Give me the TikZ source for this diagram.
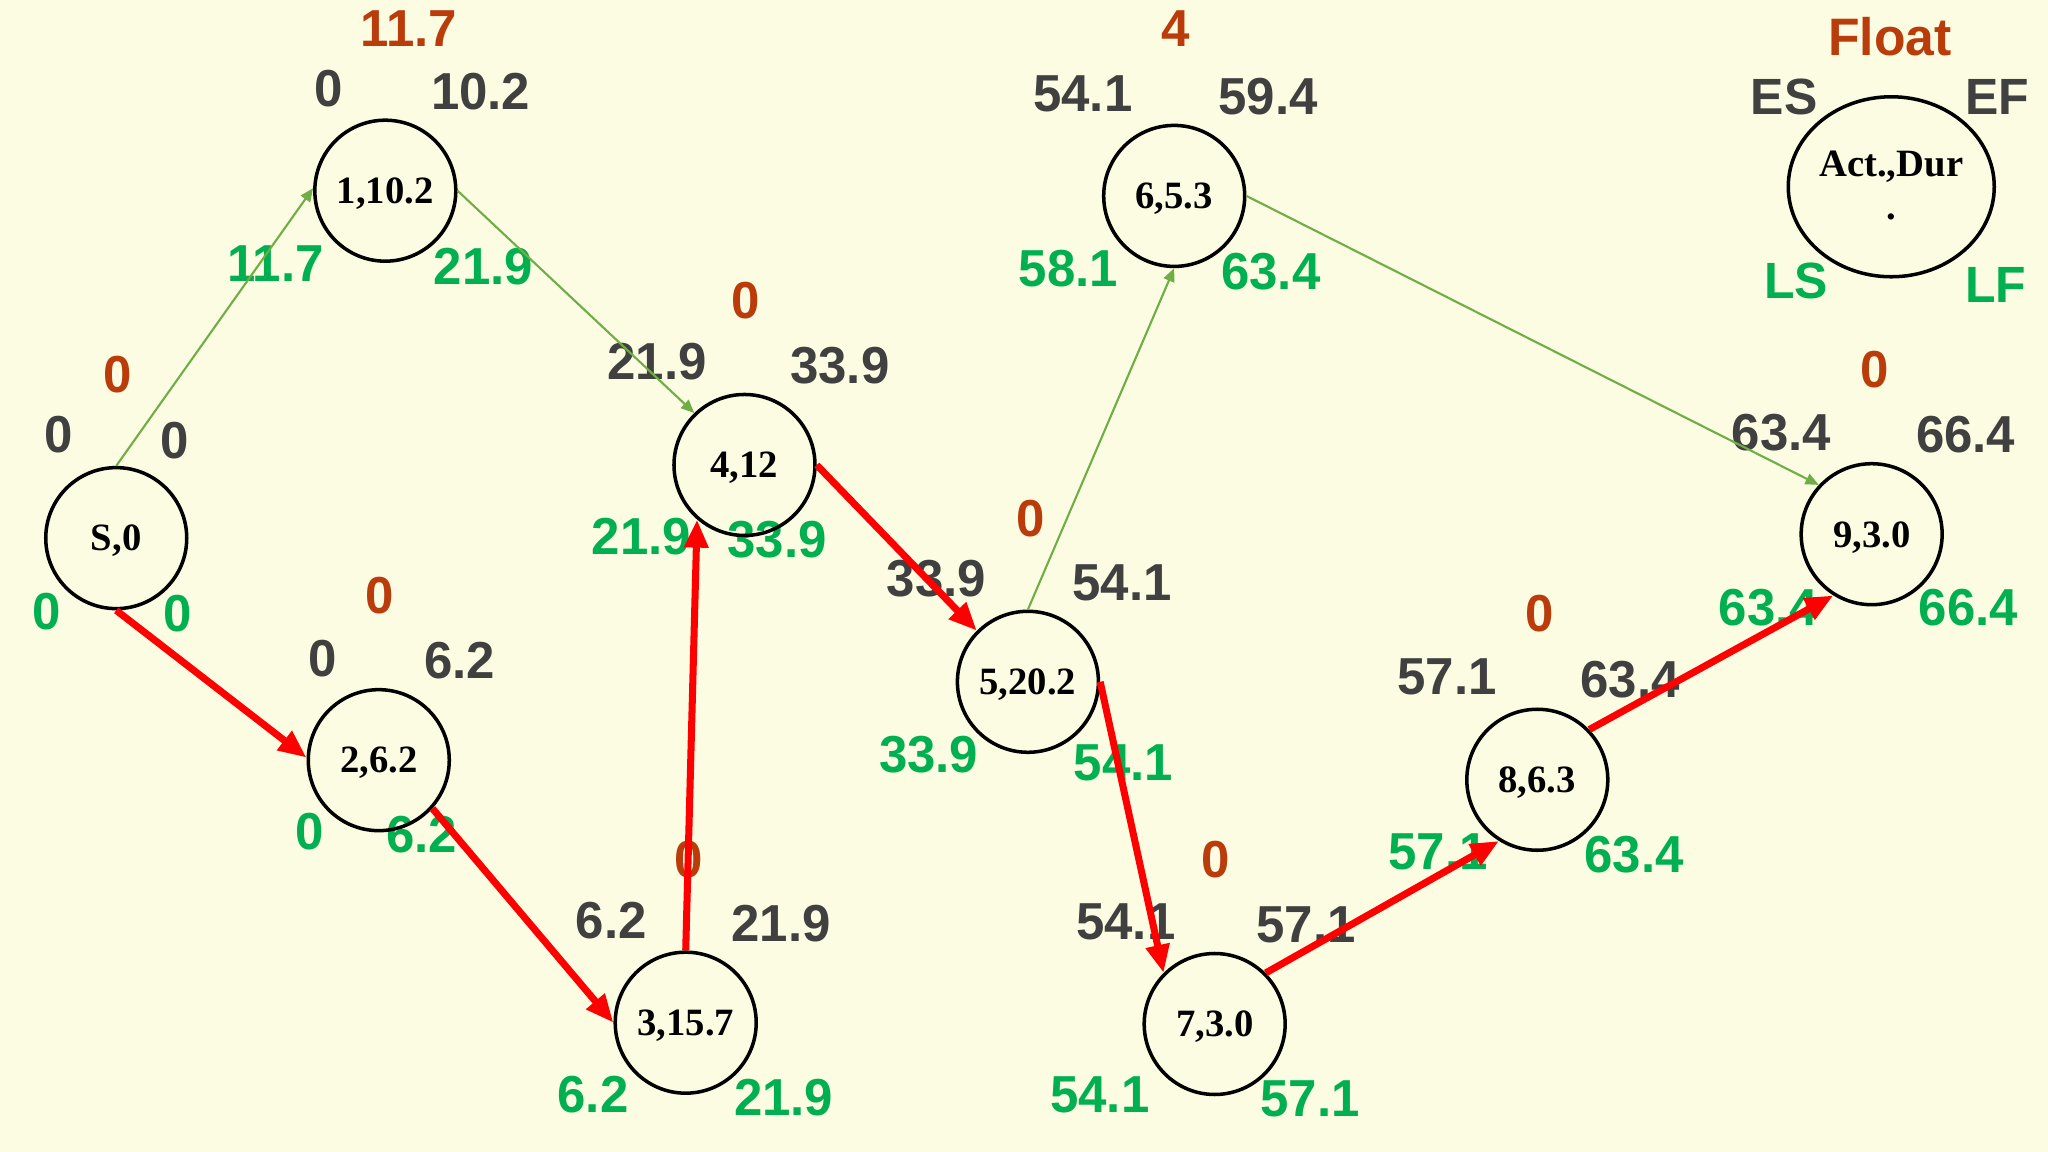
\documentclass[tikz,border=0pt]{standalone}
\usepackage{fontspec}
\setmainfont{Liberation Serif}
\newfontfamily\numfont{Liberation Sans}[FakeStretch=0.98]
\usetikzlibrary{arrows.meta,shapes.geometric}
\definecolor{bg}{RGB}{252,252,226}
\definecolor{floatc}{RGB}{185,60,10}
\definecolor{esc}{RGB}{64,64,64}
\definecolor{lsc}{RGB}{0,176,80}
\definecolor{arrg}{RGB}{112,173,71}
\definecolor{arrr}{RGB}{255,0,0}
\begin{document}
\begin{tikzpicture}[x=0.01306cm,y=-0.01306cm,
  act/.style={circle,draw=black,line width=1pt,minimum size=1.41cm,inner sep=0pt,text depth=0pt,font=\fontsize{11}{12}\selectfont\bfseries},
  num/.style={inner sep=0pt,font=\numfont\fontsize{14.8}{15}\selectfont\bfseries},
  fl/.style={num,text=floatc},
  es/.style={num,text=esc},
  ls/.style={num,text=lsc},
  crit/.style={draw=arrr,line width=2pt,-{Triangle[length=8pt,width=6.5pt]}},
  noncrit/.style={draw=arrg,line width=0.6pt,-{Triangle[length=3.8pt,width=3.2pt]}}]
\fill[bg] (0,0) rectangle (1568,882);
\useasboundingbox (0,0) rectangle (1568,882);

% ---- labels: S
\node[fl] (sF) at (90,287) {0};
\node[es] (sES) at (45,333) {0};
\node[es] (sEF) at (134,337) {0};
\node[ls] (sLS) at (36,468) {0};
\node[ls] (sLF) at (136,470) {0};
% ---- 1
\node[fl] (aF) at (313,22) {11.7};
\node[es] (aES) at (252,68) {0};
\node[es] (aEF) at (368,70) {10.2};
\node[ls] (aLS) at (211,202) {11.7};
\node[ls] (aLF) at (370,204) {21.9};
% ---- 2
\node[fl] (bF) at (291,456) {0};
\node[es] (bES) at (247,504) {0};
\node[es] (bEF) at (352,506) {6.2};
\node[ls] (bLS) at (237,637) {0};
\node[ls] (bLF) at (323,639) {6.2};
% ---- 3
\node[fl] (cF) at (527,658) {0};
\node[es] (cES) at (468,705) {6.2};
\node[es] (cEF) at (598,707) {21.9};
\node[ls] (cLS) at (454,838) {6.2};
\node[ls] (cLF) at (600,840) {21.9};
% ---- 4
\node[fl] (dF) at (571,230) {0};
\node[es] (dES) at (503,277) {21.9};
\node[es] (dEF) at (643,280) {33.9};
\node[ls] (dLS) at (491,411) {21.9};
\node[ls] (dLF) at (595,413) {33.9};
% ---- 5
\node[fl] (eF) at (789,397) {0};
\node[es] (eES) at (717,443) {33.9};
\node[es] (eEF) at (859,446) {54.1};
\node[ls] (eLS) at (711,578) {33.9};
\node[ls] (eLF) at (860,584) {54.1};
% ---- 6
\node[fl] (fF) at (900,22) {4};
\node[es] (fES) at (829,72) {54.1};
\node[es] (fEF) at (971,74) {59.4};
\node[ls] (fLS) at (818,206) {58.1};
\node[ls] (fLF) at (973,208) {63.4};
% ---- 7
\node[fl] (gF) at (931,658) {0};
\node[es] (gES) at (862,706) {54.1};
\node[es] (gEF) at (1000,708) {57.1};
\node[ls] (gLS) at (842,838) {54.1};
\node[ls] (gLF) at (1003,841) {57.1};
% ---- 8
\node[fl] (hF) at (1179,470) {0};
\node[es] (hES) at (1108,518) {57.1};
\node[es] (hEF) at (1248,520) {63.4};
\node[ls] (hLS) at (1101,652) {57.1};
\node[ls] (hLF) at (1251,654) {63.4};
% ---- 9
\node[fl] (iF) at (1435,283) {0};
\node[es] (iES) at (1364,331) {63.4};
\node[es] (iEF) at (1505,333) {66.4};
\node[ls] (iLS) at (1354,465) {63.4};
\node[ls] (iLF) at (1507,465) {66.4};

% ---- legend
\node[fl,font=\numfont\fontsize{15}{16}\selectfont\bfseries] (legF) at (1447,28) {Float};
\node[es,font=\numfont\fontsize{14.5}{15}\selectfont\bfseries] (legES) at (1366,74) {ES};
\node[es,font=\numfont\fontsize{14.5}{15}\selectfont\bfseries] (legEF) at (1529,74) {EF};
\node[ls,font=\numfont\fontsize{14.5}{15}\selectfont\bfseries] (legLS) at (1375,215) {LS};
\node[ls,font=\numfont\fontsize{14.5}{15}\selectfont\bfseries] (legLF) at (1528,218) {LF};
\node[ellipse,draw=black,line width=1pt,minimum width=2.06cm,minimum height=1.8cm,inner sep=0pt] (leg) at (1448,143) {};
\node[inner sep=0pt,font=\fontsize{11}{12}\selectfont\bfseries] (legT) at (1448,128) {Act.,Dur};
\node[inner sep=0pt,font=\fontsize{11}{12}\selectfont\bfseries] (legD) at (1448,166) {.};

% ---- activities
\node[act] (S) at (89,412) {S,0};
\node[act] (n1) at (295,146) {1,10.2};
\node[act] (n2) at (290,582) {2,6.2};
\node[act] (n3) at (525,783) {3,15.7};
\node[act] (n4) at (570,356) {4,12};
\node[act] (n5) at (787,522) {5,20.2};
\node[act] (n6) at (899,150) {6,5.3};
\node[act] (n7) at (930,784) {7,3.0};
\node[act] (n8) at (1177,597) {8,6.3};
\node[act] (n9) at (1433,409) {9,3.0};

% ---- connectors
\draw[noncrit] (S.north) -- (n1.178);
\draw[noncrit] (n1.east) -- (n4.134);
\draw[noncrit] (n5.north) -- (n6.south);
\draw[noncrit] (n6.east) -- (n9.137);
\draw[crit] (S.south) -- (n2.178);
\draw[crit] (n2.-42) -- (n3.west);
\draw[crit] (n3.north) -- (n4.229);
\draw[crit] (n4.east) -- (n5.135);
\draw[crit] (n5.east) -- (n7.135);
\draw[crit] (n7.45) -- (n8.238);
\draw[crit] (n8.44) -- (n9.238);
\end{tikzpicture}
\end{document}
